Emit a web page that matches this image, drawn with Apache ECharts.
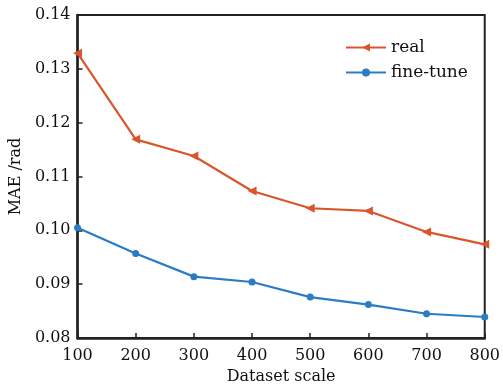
<!DOCTYPE html>
<html>
<head>
<meta charset="utf-8">
<script src="https://cdn.jsdelivr.net/npm/echarts@6/dist/echarts.min.js"></script>
<style>
    html, body { margin: 0; padding: 0; background: #fff; }
    #chart { width: 503px; height: 391px; }
</style>
</head>
<body>
<div id="chart"></div>
<script>
// dataset sizes
const scales = [100, 200, 300, 400, 500, 600, 700, 800];
// MAE values
const realMAE = [0.1329, 0.1169, 0.1138, 0.1073, 0.1041, 0.1036, 0.0997, 0.0974];
const fineTuneMAE = [0.1005, 0.0957, 0.0914, 0.0904, 0.0876, 0.0862, 0.0845, 0.0839];

const font = "DejaVu Serif";
const ink = "#111";
const pairs = (ys) => scales.map((x, i) => [x, ys[i]]);

const chart = echarts.init(document.getElementById("chart"));
chart.setOption({
    animation: false,
    textStyle: { fontFamily: font },
    grid: { left: 73, right: 17, top: 15, bottom: 53, show: true, borderColor: "#222", borderWidth: 2 },
    legend: {
        orient: "vertical",
        left: 340, top: 34,
        itemWidth: 40, itemHeight: 10, itemGap: 8,
        textStyle: { fontFamily: font, fontSize: 17, color: ink },
        data: ["real", "fine-tune"]
    },
    xAxis: {
        type: "value",
        min: 100, max: 800, interval: 100,
        name: "Dataset scale",
        nameLocation: "middle",
        nameGap: 31,
        nameTextStyle: { fontFamily: font, fontSize: 16, color: ink },
        axisLine: { lineStyle: { color: "#222", width: 2.5 } },
        axisTick: { inside: true, length: 5, lineStyle: { color: "#222", width: 1.5 } },
        axisLabel: { fontFamily: font, fontSize: 16, color: ink, margin: 10 },
        splitLine: { show: false }
    },
    yAxis: {
        type: "value",
        min: 0.08, max: 0.14, interval: 0.01,
        name: "MAE /rad",
        nameLocation: "middle",
        nameGap: 48,
        nameTextStyle: { fontFamily: font, fontSize: 16, color: ink },
        axisLine: { show: true, lineStyle: { color: "#222", width: 2.5 } },
        axisTick: { show: true, inside: true, length: 5, lineStyle: { color: "#222", width: 1.5 } },
        axisLabel: { fontFamily: font, fontSize: 16, color: ink, margin: 7,
            formatter: (v) => v.toFixed(2) },
        splitLine: { show: false }
    },
    series: [
        {
            name: "real",
            type: "line",
            data: pairs(realMAE),
            symbol: "triangle",
            symbolRotate: 90,
            symbolSize: 9,
            itemStyle: { color: "#d9562c" },
            lineStyle: { color: "#d9562c", width: 2.2 }
        },
        {
            name: "fine-tune",
            type: "line",
            data: pairs(fineTuneMAE),
            symbol: "circle",
            symbolSize: 7,
            itemStyle: { color: "#2b7cc4" },
            lineStyle: { color: "#2b7cc4", width: 2.2 }
        }
    ]
});
</script>
</body>
</html>
